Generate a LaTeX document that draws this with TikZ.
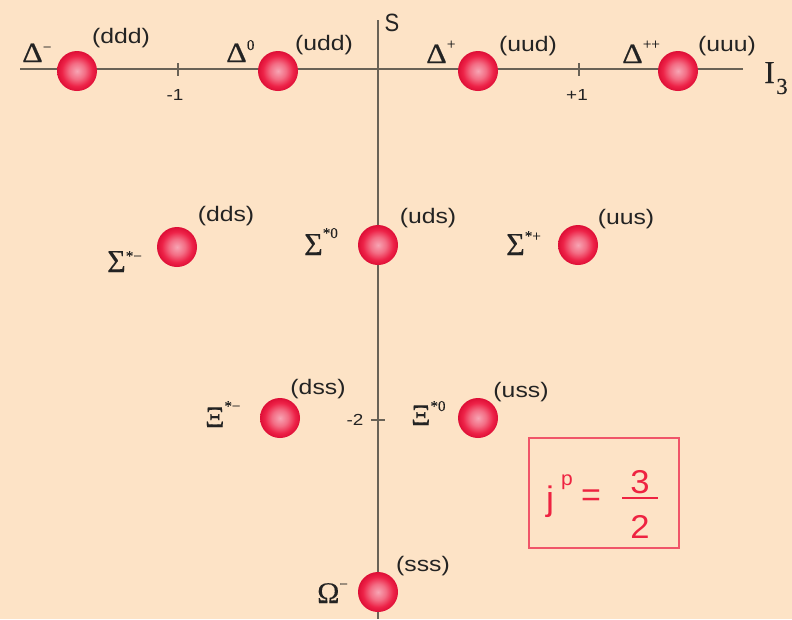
\documentclass[tikz,border=0pt]{standalone}
\usepackage{fontspec}
\setmainfont{Liberation Sans}
\newfontfamily\grf[FakeBold=0.2]{Liberation Serif}
\definecolor{bg}{RGB}{253,227,198}
\definecolor{axisc}{RGB}{105,98,86}
\definecolor{txt}{RGB}{35,35,35}
\definecolor{bpink}{RGB}{247,165,180}
\definecolor{bmid}{RGB}{243,110,133}
\definecolor{bred}{RGB}{237,35,72}
\definecolor{bred2}{RGB}{222,14,54}
\definecolor{boxred}{RGB}{240,85,105}
\definecolor{jred}{RGB}{238,35,65}
\pgfdeclareradialshading{ballsh}{\pgfpoint{0bp}{0bp}}{color(0bp)=(bpink); color(10bp)=(bmid); color(19bp)=(bred); color(25bp)=(bred2); color(50bp)=(bred2)}
\newcommand\hsup[2]{\raisebox{#1pt}{\fontsize{15}{15}\selectfont #2}}
\newcommand\qk[1]{\scalebox{1.18}[1]{#1}}
\tikzset{
  ball/.style={circle, minimum size=40pt, inner sep=0pt, shading=ballsh},
  axisline/.style={draw=axisc, line width=2.6pt},
  tickline/.style={draw=axisc, line width=1.8pt},
  glab/.style={anchor=base west, inner sep=0pt, text=txt},
  qlab/.style={inner sep=0pt, text=txt, font=\fontsize{21}{21}\selectfont},
  ticklab/.style={inner sep=0pt, text=txt, font=\fontsize{16}{16}\selectfont},
  jtext/.style={inner sep=0pt, text=jred}
}
\begin{document}
\begin{tikzpicture}[x=1pt,y=-1pt]
\useasboundingbox (0,0) rectangle (792,619);
\fill[bg] (0,0) rectangle (792,619);
% axes
\coordinate (hl) at (20,69);
\coordinate (hr) at (743,69);
\coordinate (vt) at (378,20);
\coordinate (vb) at (378,619);
\draw[axisline] (hl) -- (hr);
\draw[axisline] (vt) -- (vb);
% ticks
\draw[tickline] (178,63) -- (178,76);
\draw[tickline] (579,63) -- (579,76);
\draw[tickline] (371,420) -- (385,420);
\node[ticklab] (tm1) at (175,95) {\qk{-1}};
\node[ticklab] (tp1) at (577,95) {\qk{+1}};
\node[ticklab] (tm2) at (355,420) {\qk{-2}};
% axis labels
\node[inner sep=0pt, text=txt, font=\fontsize{25}{25}\selectfont] (S) at (392,23) {\scalebox{0.88}[1]{S}};
\node[glab, font=\grf\fontsize{32}{32}\selectfont] (I3) at (764,83) {I};
\node[glab, font=\grf\fontsize{23}{23}\selectfont] (I3s) at (776,94) {3};
% balls
\node[ball] (dm)  at (77,71) {};
\node[ball] (dz)  at (278,71) {};
\node[ball] (dp)  at (478,71) {};
\node[ball] (dpp) at (678,71) {};
\node[ball] (sm)  at (177,247) {};
\node[ball] (sz)  at (378,245) {};
\node[ball] (sp)  at (578,245) {};
\node[ball] (xm)  at (280,418) {};
\node[ball] (xz)  at (478,418) {};
\node[ball] (om)  at (378,592) {};
% greek labels
\node[glab, font=\grf\fontsize{28}{28}\selectfont] (ldm)  at (22,62)  {\scalebox{1.15}[1]{Δ}\hsup{10}{−}};
\node[glab, font=\grf\fontsize{28}{28}\selectfont] (ldz)  at (226,62) {\scalebox{1.15}[1]{Δ}\hsup{12}{0}};
\node[glab, font=\grf\fontsize{28}{28}\selectfont] (ldp)  at (426,63) {\scalebox{1.15}[1]{Δ}\hsup{14}{+}};
\node[glab, font=\grf\fontsize{28}{28}\selectfont] (ldpp) at (622,63) {\scalebox{1.15}[1]{Δ}\hsup{14}{++}};
\node[glab, font=\grf\fontsize{32}{32}\selectfont] (lsm)  at (107,272) {Σ\hsup{11}{*−}};
\node[glab, font=\grf\fontsize{32}{32}\selectfont] (lsz)  at (304,255) {Σ\hsup{17}{*0}};
\node[glab, font=\grf\fontsize{32}{32}\selectfont] (lsp)  at (506,255) {Σ\hsup{14}{*+}};
\node[glab, font=\grf\fontsize{30}{30}\selectfont] (lxm)  at (205,427) {Ξ\hsup{16}{*−}};
\node[glab, font=\grf\fontsize{30}{30}\selectfont] (lxz)  at (411,425) {Ξ\hsup{14}{*0}};
\node[glab, font=\grf\fontsize{30}{30}\selectfont] (lom)  at (317,603) {Ω\hsup{14}{−}};
% quark content
\node[qlab] (qdm)  at (121,38)  {\qk{(ddd)}};
\node[qlab] (qdz)  at (324,45)  {\qk{(udd)}};
\node[qlab] (qdp)  at (528,46)  {\qk{(uud)}};
\node[qlab] (qdpp) at (727,46)  {\qk{(uuu)}};
\node[qlab] (qsm)  at (226,216) {\qk{(dds)}};
\node[qlab] (qsz)  at (428,218) {\qk{(uds)}};
\node[qlab] (qsp)  at (626,219) {\qk{(uus)}};
\node[qlab] (qxm)  at (318,389) {\qk{(dss)}};
\node[qlab] (qxz)  at (521,392) {\qk{(uss)}};
\node[qlab] (qom)  at (423,566) {\qk{(sss)}};
% spin box
\node[draw=boxred, line width=2pt, minimum width=150pt, minimum height=110pt, inner sep=0pt] (box) at (604,493) {};
\node[jtext, anchor=base west, font=\fontsize{34}{34}\selectfont] (jj) at (546,510) {\scalebox{1.05}[1]{j}};
\node[jtext, anchor=base west, font=\fontsize{20}{20}\selectfont] (pp) at (561,485) {\scalebox{1.05}[1]{p}};
\node[jtext, font=\fontsize{34}{34}\selectfont] (eq) at (591,498) {=};
\node[jtext, font=\fontsize{33}{33}\selectfont] (n3) at (640,482) {\scalebox{1.05}[1]{3}};
\node[jtext, font=\fontsize{33}{33}\selectfont] (n2) at (640,527) {\scalebox{1.05}[1]{2}};
\coordinate (fbl) at (622,498);
\coordinate (fbr) at (658,498);
\draw[jred, line width=2pt] (fbl) -- (fbr);
\end{tikzpicture}
\end{document}
